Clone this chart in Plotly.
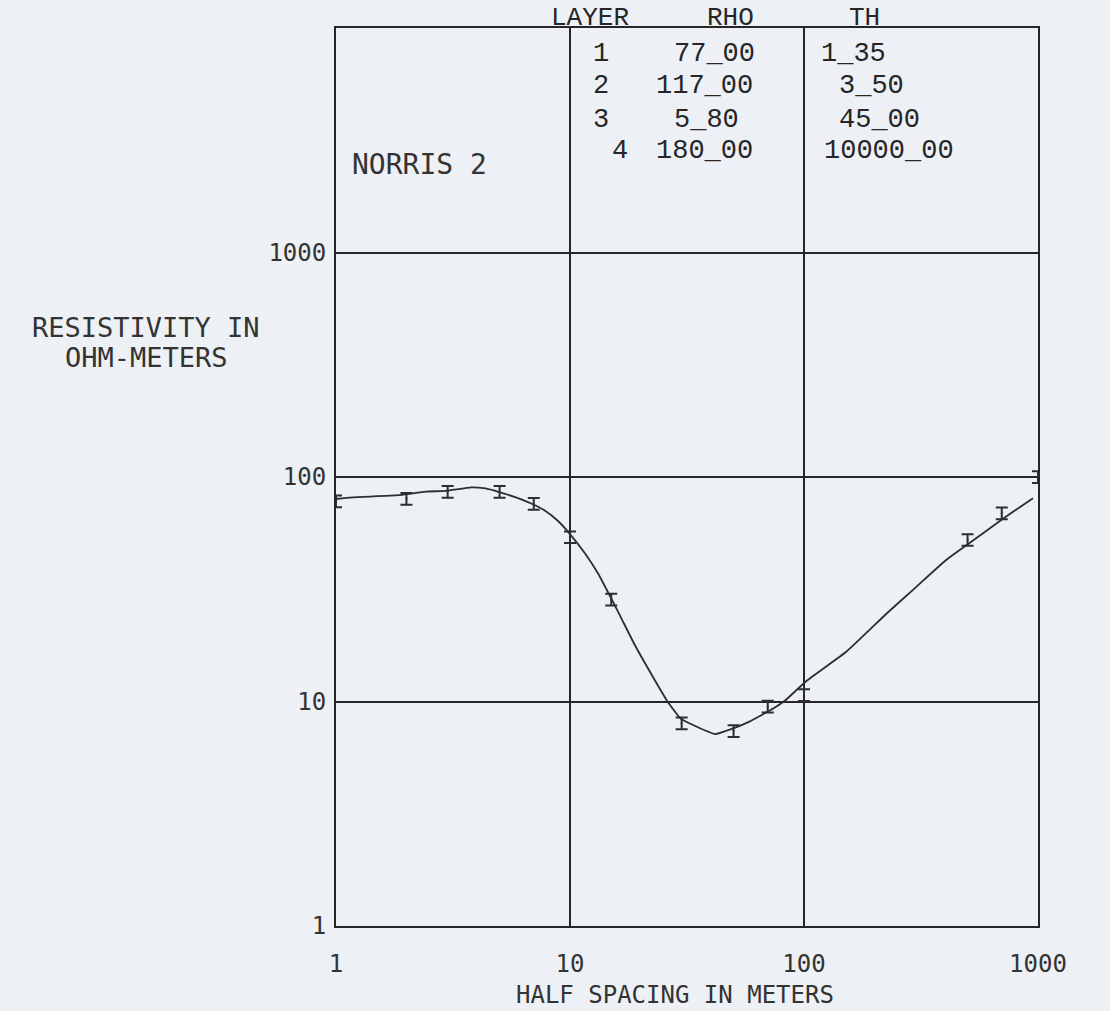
import plotly.graph_objects as go

# ---------------- data ----------------
spacing_obs = [1, 2, 3, 5, 7, 10, 15, 30, 50, 70, 100, 500, 700, 1000]
rho_obs = [78, 80, 86, 86, 76, 54, 28.5, 8.0, 7.4, 9.5, 10.7, 52.5, 69, 100]

spacing_model = [1.0, 1.17, 1.85, 2.42, 2.94, 3.79, 4.35, 4.94, 5.83, 6.83, 7.83, 8.89,
                 10, 11.6, 13.2, 14.9, 16.5, 18.9, 21.5, 26.1, 29.7, 32.7, 41.8, 48.4,
                 57.2, 74.5, 83, 103, 152, 225, 294, 406, 561, 731, 952]
rho_model = [79.8, 81.1, 83, 86.1, 86.7, 89.9, 88.9, 85.9, 81.3, 76.2, 70.8, 63.7,
             55.7, 45.6, 37.1, 29.2, 23.7, 17.9, 14.1, 10.0, 8.4, 7.96, 7.16, 7.51,
             8.05, 9.35, 10.1, 12.4, 16.7, 24.6, 31.6, 42.8, 54.6, 66.7, 80.5]

x_tick_vals = [1, 10, 100, 1000]
x_tick_text = ["1", "10", "100", "1000"]
y_tick_vals = [1, 10, 100, 1000]
y_tick_text = ["1", "10", "100", "1000"]

table_headers = ["LAYER", "RHO", "TH"]
layer_ids = ["1", "2", "3", "4"]
layer_rho = ["77_00", "117_00", "5_80", "180_00"]
layer_th = ["1_35", "3_50", "45_00", "10000_00"]
site_name = "NORRIS 2"
y_title_lines = ["RESISTIVITY IN", "OHM-METERS"]
x_title = "HALF SPACING IN METERS"

# ---------------- layout geometry ----------------
W, H = 1110, 1011
L, R, T, B = 336, 72, 28, 85
PW, PH = W - L - R, H - T - B


def px(x):
    return (x - L) / PW


def py(y):
    return (H - B - y) / PH


BG = "#edf0f5"
INK = "#262626"
PLOT_FONT = "DejaVu Sans Mono"
TABLE_FONT = "Liberation Mono"

fig = go.Figure()

fig.add_trace(go.Scatter(
    x=spacing_model, y=rho_model, mode="lines",
    line=dict(color="#2e2e2e", width=1.8, shape="spline", smoothing=0.4),
    hoverinfo="skip", showlegend=False, cliponaxis=False,
))

fig.add_trace(go.Scatter(
    x=spacing_obs, y=rho_obs, mode="markers",
    marker=dict(size=2, color="#2e2e2e"),
    error_y=dict(type="percent", value=6, color="#2e2e2e", thickness=2, width=6),
    showlegend=False, cliponaxis=False,
))

annotations = []

# table header
for txt, xc in zip(table_headers, [590, 730, 864]):
    annotations.append(dict(x=px(xc), y=py(18), xref="paper", yref="paper",
                            text=txt, showarrow=False, xanchor="center", yanchor="middle",
                            font=dict(family=TABLE_FONT, size=26, color=INK)))

row_y = [54, 86, 120, 151]
id_x = [601, 601, 601, 620]
rho_x = [672, 654, 672, 654]
th_x = [819, 837, 837, 822]
for i in range(len(layer_ids)):
    annotations.append(dict(x=px(id_x[i]), y=py(row_y[i]), xref="paper", yref="paper",
                            text=layer_ids[i], showarrow=False, xanchor="center", yanchor="middle",
                            font=dict(family=TABLE_FONT, size=27, color=INK)))
    annotations.append(dict(x=px(rho_x[i]), y=py(row_y[i]), xref="paper", yref="paper",
                            text=layer_rho[i], showarrow=False, xanchor="left", yanchor="middle",
                            font=dict(family=TABLE_FONT, size=27, color=INK)))
    annotations.append(dict(x=px(th_x[i]), y=py(row_y[i]), xref="paper", yref="paper",
                            text=layer_th[i], showarrow=False, xanchor="left", yanchor="middle",
                            font=dict(family=TABLE_FONT, size=27, color=INK)))

# site name
annotations.append(dict(x=px(350), y=py(165), xref="paper", yref="paper",
                        text=site_name, showarrow=False, xanchor="left", yanchor="middle",
                        font=dict(family=PLOT_FONT, size=28, color="#333333")))

# y title (two lines)
for txt, yy in zip(y_title_lines, [327, 357]):
    annotations.append(dict(x=px(146), y=py(yy), xref="paper", yref="paper",
                            text=txt, showarrow=False, xanchor="center", yanchor="middle",
                            font=dict(family=PLOT_FONT, size=27, color="#333333")))

# x title
annotations.append(dict(x=px(675), y=py(1011), xref="paper", yref="paper",
                        text=x_title, showarrow=False, xanchor="center", yanchor="bottom",
                        font=dict(family=PLOT_FONT, size=24, color="#333333")))

axis_common = dict(
    type="log", showgrid=True, gridcolor=INK, gridwidth=2,
    showline=True, mirror=True, linecolor=INK, linewidth=2,
    zeroline=False, ticks="", minor=dict(showgrid=False),
    tickfont=dict(family=PLOT_FONT, size=24, color="#333333"),
)

fig.update_xaxes(range=[0, 3], tickmode="array", tickvals=x_tick_vals, ticktext=x_tick_text,
                 ticklabelstandoff=15, **axis_common)
fig.update_yaxes(range=[0, 4], tickmode="array", tickvals=y_tick_vals, ticktext=y_tick_text,
                 ticklabelstandoff=3, **axis_common)

fig.update_layout(
    width=W, height=H, autosize=False,
    margin=dict(l=L, r=R, t=T, b=B, pad=0),
    paper_bgcolor=BG, plot_bgcolor=BG,
    annotations=annotations,
    showlegend=False,
)

fig.write_html("out.html")
